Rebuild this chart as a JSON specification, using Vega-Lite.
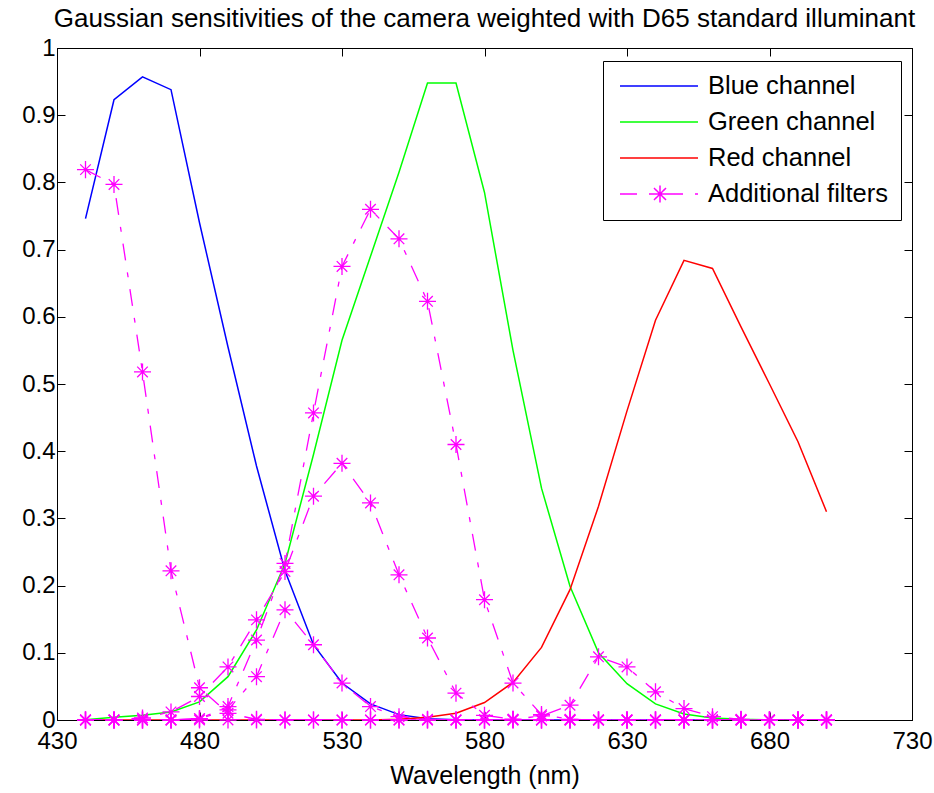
{
  "$schema": "https://vega.github.io/schema/vega-lite/v6.json",
  "width": 855,
  "height": 672,
  "autosize": {"type": "none"},
  "padding": {"left": 57, "top": 48, "right": 22, "bottom": 73},
  "background": "white",
  "title": {
    "text": "Gaussian sensitivities of the camera weighted with D65 standard illuminant",
    "font": "Liberation Sans", "fontSize": 26, "fontWeight": "normal", "color": "black",
    "anchor": "middle", "frame": "group", "baseline": "alphabetic", "offset": -17
  },
  "config": {
    "view": {"stroke": "black", "strokeWidth": 1},
    "axis": {
      "domainColor": "black", "domainWidth": 1, "tickColor": "black", "tickWidth": 1,
      "tickSize": -8, "grid": false, "labelFont": "Liberation Sans", "labelFontSize": 24,
      "labelColor": "black", "titleFont": "Liberation Sans", "titleFontSize": 25,
      "titleFontWeight": "normal", "titleColor": "black", "labelFlush": false,
      "labelOverlap": false, "labelBound": false
    },
    "axisX": {"labelPadding": 17, "titlePadding": 10},
    "axisY": {"labelPadding": 10}
  },
  "resolve": {"axis": {"x": "independent", "y": "independent"}},
  "data": {"values": [
    {"w":440,"v":0.746,"s":"Blue channel","c":"B"},{"w":450,"v":0.923,"s":"Blue channel","c":"B"},{"w":460,"v":0.957,"s":"Blue channel","c":"B"},{"w":470,"v":0.938,"s":"Blue channel","c":"B"},{"w":480,"v":0.74,"s":"Blue channel","c":"B"},{"w":490,"v":0.555,"s":"Blue channel","c":"B"},{"w":500,"v":0.378,"s":"Blue channel","c":"B"},{"w":510,"v":0.222,"s":"Blue channel","c":"B"},{"w":520,"v":0.112,"s":"Blue channel","c":"B"},{"w":530,"v":0.055,"s":"Blue channel","c":"B"},{"w":540,"v":0.024,"s":"Blue channel","c":"B"},{"w":550,"v":0.008,"s":"Blue channel","c":"B"},{"w":560,"v":0.002,"s":"Blue channel","c":"B"},{"w":570,"v":0.0005,"s":"Blue channel","c":"B"},{"w":580,"v":0,"s":"Blue channel","c":"B"},{"w":590,"v":0,"s":"Blue channel","c":"B"},{"w":600,"v":0,"s":"Blue channel","c":"B"},{"w":610,"v":0,"s":"Blue channel","c":"B"},{"w":620,"v":0,"s":"Blue channel","c":"B"},{"w":630,"v":0,"s":"Blue channel","c":"B"},{"w":640,"v":0,"s":"Blue channel","c":"B"},{"w":650,"v":0,"s":"Blue channel","c":"B"},{"w":660,"v":0,"s":"Blue channel","c":"B"},{"w":670,"v":0,"s":"Blue channel","c":"B"},{"w":680,"v":0,"s":"Blue channel","c":"B"},{"w":690,"v":0,"s":"Blue channel","c":"B"},{"w":700,"v":0,"s":"Blue channel","c":"B"},
    {"w":440,"v":0.0005,"s":"Green channel","c":"G"},{"w":450,"v":0.004,"s":"Green channel","c":"G"},{"w":460,"v":0.007,"s":"Green channel","c":"G"},{"w":470,"v":0.012,"s":"Green channel","c":"G"},{"w":480,"v":0.027,"s":"Green channel","c":"G"},{"w":490,"v":0.0645,"s":"Green channel","c":"G"},{"w":500,"v":0.134,"s":"Green channel","c":"G"},{"w":510,"v":0.233,"s":"Green channel","c":"G"},{"w":520,"v":0.395,"s":"Green channel","c":"G"},{"w":530,"v":0.565,"s":"Green channel","c":"G"},{"w":540,"v":0.69,"s":"Green channel","c":"G"},{"w":550,"v":0.815,"s":"Green channel","c":"G"},{"w":560,"v":0.948,"s":"Green channel","c":"G"},{"w":570,"v":0.948,"s":"Green channel","c":"G"},{"w":580,"v":0.785,"s":"Green channel","c":"G"},{"w":590,"v":0.55,"s":"Green channel","c":"G"},{"w":600,"v":0.345,"s":"Green channel","c":"G"},{"w":610,"v":0.199,"s":"Green channel","c":"G"},{"w":620,"v":0.1,"s":"Green channel","c":"G"},{"w":630,"v":0.054,"s":"Green channel","c":"G"},{"w":640,"v":0.024,"s":"Green channel","c":"G"},{"w":650,"v":0.009,"s":"Green channel","c":"G"},{"w":660,"v":0.003,"s":"Green channel","c":"G"},{"w":670,"v":0.001,"s":"Green channel","c":"G"},{"w":680,"v":0,"s":"Green channel","c":"G"},{"w":690,"v":0,"s":"Green channel","c":"G"},{"w":700,"v":0,"s":"Green channel","c":"G"},
    {"w":440,"v":0,"s":"Red channel","c":"R"},{"w":450,"v":0,"s":"Red channel","c":"R"},{"w":460,"v":0,"s":"Red channel","c":"R"},{"w":470,"v":0,"s":"Red channel","c":"R"},{"w":480,"v":0,"s":"Red channel","c":"R"},{"w":490,"v":0,"s":"Red channel","c":"R"},{"w":500,"v":0,"s":"Red channel","c":"R"},{"w":510,"v":0,"s":"Red channel","c":"R"},{"w":520,"v":0,"s":"Red channel","c":"R"},{"w":530,"v":0,"s":"Red channel","c":"R"},{"w":540,"v":0,"s":"Red channel","c":"R"},{"w":550,"v":0.001,"s":"Red channel","c":"R"},{"w":560,"v":0.004,"s":"Red channel","c":"R"},{"w":570,"v":0.01,"s":"Red channel","c":"R"},{"w":580,"v":0.026,"s":"Red channel","c":"R"},{"w":590,"v":0.056,"s":"Red channel","c":"R"},{"w":600,"v":0.108,"s":"Red channel","c":"R"},{"w":610,"v":0.194,"s":"Red channel","c":"R"},{"w":620,"v":0.318,"s":"Red channel","c":"R"},{"w":630,"v":0.46,"s":"Red channel","c":"R"},{"w":640,"v":0.595,"s":"Red channel","c":"R"},{"w":650,"v":0.684,"s":"Red channel","c":"R"},{"w":660,"v":0.672,"s":"Red channel","c":"R"},{"w":670,"v":0.585,"s":"Red channel","c":"R"},{"w":680,"v":0.5,"s":"Red channel","c":"R"},{"w":690,"v":0.414,"s":"Red channel","c":"R"},{"w":700,"v":0.31,"s":"Red channel","c":"R"},
    {"w":440,"v":0.819,"s":"Additional filters","c":"F1"},{"w":450,"v":0.797,"s":"Additional filters","c":"F1"},{"w":460,"v":0.518,"s":"Additional filters","c":"F1"},{"w":470,"v":0.222,"s":"Additional filters","c":"F1"},{"w":480,"v":0.048,"s":"Additional filters","c":"F1"},{"w":490,"v":0.01,"s":"Additional filters","c":"F1"},{"w":500,"v":0.001,"s":"Additional filters","c":"F1"},{"w":510,"v":0,"s":"Additional filters","c":"F1"},{"w":520,"v":0,"s":"Additional filters","c":"F1"},{"w":530,"v":0,"s":"Additional filters","c":"F1"},{"w":540,"v":0,"s":"Additional filters","c":"F1"},{"w":550,"v":0,"s":"Additional filters","c":"F1"},{"w":560,"v":0,"s":"Additional filters","c":"F1"},{"w":570,"v":0,"s":"Additional filters","c":"F1"},{"w":580,"v":0,"s":"Additional filters","c":"F1"},{"w":590,"v":0,"s":"Additional filters","c":"F1"},{"w":600,"v":0,"s":"Additional filters","c":"F1"},{"w":610,"v":0,"s":"Additional filters","c":"F1"},{"w":620,"v":0,"s":"Additional filters","c":"F1"},{"w":630,"v":0,"s":"Additional filters","c":"F1"},{"w":640,"v":0,"s":"Additional filters","c":"F1"},{"w":650,"v":0,"s":"Additional filters","c":"F1"},{"w":660,"v":0,"s":"Additional filters","c":"F1"},{"w":670,"v":0,"s":"Additional filters","c":"F1"},{"w":680,"v":0,"s":"Additional filters","c":"F1"},{"w":690,"v":0,"s":"Additional filters","c":"F1"},{"w":700,"v":0,"s":"Additional filters","c":"F1"},
    {"w":440,"v":0,"s":"Additional filters","c":"F2"},{"w":450,"v":0,"s":"Additional filters","c":"F2"},{"w":460,"v":0,"s":"Additional filters","c":"F2"},{"w":470,"v":0,"s":"Additional filters","c":"F2"},{"w":480,"v":0.002,"s":"Additional filters","c":"F2"},{"w":490,"v":0.02,"s":"Additional filters","c":"F2"},{"w":500,"v":0.119,"s":"Additional filters","c":"F2"},{"w":510,"v":0.233,"s":"Additional filters","c":"F2"},{"w":520,"v":0.457,"s":"Additional filters","c":"F2"},{"w":530,"v":0.675,"s":"Additional filters","c":"F2"},{"w":540,"v":0.76,"s":"Additional filters","c":"F2"},{"w":550,"v":0.716,"s":"Additional filters","c":"F2"},{"w":560,"v":0.623,"s":"Additional filters","c":"F2"},{"w":570,"v":0.41,"s":"Additional filters","c":"F2"},{"w":580,"v":0.179,"s":"Additional filters","c":"F2"},{"w":590,"v":0.055,"s":"Additional filters","c":"F2"},{"w":600,"v":0.008,"s":"Additional filters","c":"F2"},{"w":610,"v":0.001,"s":"Additional filters","c":"F2"},{"w":620,"v":0,"s":"Additional filters","c":"F2"},{"w":630,"v":0,"s":"Additional filters","c":"F2"},{"w":640,"v":0,"s":"Additional filters","c":"F2"},{"w":650,"v":0,"s":"Additional filters","c":"F2"},{"w":660,"v":0,"s":"Additional filters","c":"F2"},{"w":670,"v":0,"s":"Additional filters","c":"F2"},{"w":680,"v":0,"s":"Additional filters","c":"F2"},{"w":690,"v":0,"s":"Additional filters","c":"F2"},{"w":700,"v":0,"s":"Additional filters","c":"F2"},
    {"w":440,"v":0,"s":"Additional filters","c":"F3"},{"w":450,"v":0,"s":"Additional filters","c":"F3"},{"w":460,"v":0.003,"s":"Additional filters","c":"F3"},{"w":470,"v":0.012,"s":"Additional filters","c":"F3"},{"w":480,"v":0.035,"s":"Additional filters","c":"F3"},{"w":490,"v":0.079,"s":"Additional filters","c":"F3"},{"w":500,"v":0.149,"s":"Additional filters","c":"F3"},{"w":510,"v":0.221,"s":"Additional filters","c":"F3"},{"w":520,"v":0.333,"s":"Additional filters","c":"F3"},{"w":530,"v":0.382,"s":"Additional filters","c":"F3"},{"w":540,"v":0.323,"s":"Additional filters","c":"F3"},{"w":550,"v":0.216,"s":"Additional filters","c":"F3"},{"w":560,"v":0.122,"s":"Additional filters","c":"F3"},{"w":570,"v":0.04,"s":"Additional filters","c":"F3"},{"w":580,"v":0.007,"s":"Additional filters","c":"F3"},{"w":590,"v":0.001,"s":"Additional filters","c":"F3"},{"w":600,"v":0,"s":"Additional filters","c":"F3"},{"w":610,"v":0,"s":"Additional filters","c":"F3"},{"w":620,"v":0,"s":"Additional filters","c":"F3"},{"w":630,"v":0,"s":"Additional filters","c":"F3"},{"w":640,"v":0,"s":"Additional filters","c":"F3"},{"w":650,"v":0,"s":"Additional filters","c":"F3"},{"w":660,"v":0,"s":"Additional filters","c":"F3"},{"w":670,"v":0,"s":"Additional filters","c":"F3"},{"w":680,"v":0,"s":"Additional filters","c":"F3"},{"w":690,"v":0,"s":"Additional filters","c":"F3"},{"w":700,"v":0,"s":"Additional filters","c":"F3"},
    {"w":440,"v":0,"s":"Additional filters","c":"F4"},{"w":450,"v":0,"s":"Additional filters","c":"F4"},{"w":460,"v":0,"s":"Additional filters","c":"F4"},{"w":470,"v":0,"s":"Additional filters","c":"F4"},{"w":480,"v":0.002,"s":"Additional filters","c":"F4"},{"w":490,"v":0.015,"s":"Additional filters","c":"F4"},{"w":500,"v":0.0645,"s":"Additional filters","c":"F4"},{"w":510,"v":0.164,"s":"Additional filters","c":"F4"},{"w":520,"v":0.112,"s":"Additional filters","c":"F4"},{"w":530,"v":0.055,"s":"Additional filters","c":"F4"},{"w":540,"v":0.02,"s":"Additional filters","c":"F4"},{"w":550,"v":0.005,"s":"Additional filters","c":"F4"},{"w":560,"v":0.001,"s":"Additional filters","c":"F4"},{"w":570,"v":0,"s":"Additional filters","c":"F4"},{"w":580,"v":0,"s":"Additional filters","c":"F4"},{"w":590,"v":0,"s":"Additional filters","c":"F4"},{"w":600,"v":0,"s":"Additional filters","c":"F4"},{"w":610,"v":0,"s":"Additional filters","c":"F4"},{"w":620,"v":0,"s":"Additional filters","c":"F4"},{"w":630,"v":0,"s":"Additional filters","c":"F4"},{"w":640,"v":0,"s":"Additional filters","c":"F4"},{"w":650,"v":0,"s":"Additional filters","c":"F4"},{"w":660,"v":0,"s":"Additional filters","c":"F4"},{"w":670,"v":0,"s":"Additional filters","c":"F4"},{"w":680,"v":0,"s":"Additional filters","c":"F4"},{"w":690,"v":0,"s":"Additional filters","c":"F4"},{"w":700,"v":0,"s":"Additional filters","c":"F4"},
    {"w":440,"v":0,"s":"Additional filters","c":"F5"},{"w":450,"v":0,"s":"Additional filters","c":"F5"},{"w":460,"v":0,"s":"Additional filters","c":"F5"},{"w":470,"v":0,"s":"Additional filters","c":"F5"},{"w":480,"v":0,"s":"Additional filters","c":"F5"},{"w":490,"v":0,"s":"Additional filters","c":"F5"},{"w":500,"v":0,"s":"Additional filters","c":"F5"},{"w":510,"v":0,"s":"Additional filters","c":"F5"},{"w":520,"v":0,"s":"Additional filters","c":"F5"},{"w":530,"v":0,"s":"Additional filters","c":"F5"},{"w":540,"v":0,"s":"Additional filters","c":"F5"},{"w":550,"v":0,"s":"Additional filters","c":"F5"},{"w":560,"v":0,"s":"Additional filters","c":"F5"},{"w":570,"v":0,"s":"Additional filters","c":"F5"},{"w":580,"v":0,"s":"Additional filters","c":"F5"},{"w":590,"v":0.001,"s":"Additional filters","c":"F5"},{"w":600,"v":0.006,"s":"Additional filters","c":"F5"},{"w":610,"v":0.022,"s":"Additional filters","c":"F5"},{"w":620,"v":0.094,"s":"Additional filters","c":"F5"},{"w":630,"v":0.079,"s":"Additional filters","c":"F5"},{"w":640,"v":0.042,"s":"Additional filters","c":"F5"},{"w":650,"v":0.017,"s":"Additional filters","c":"F5"},{"w":660,"v":0.005,"s":"Additional filters","c":"F5"},{"w":670,"v":0.001,"s":"Additional filters","c":"F5"},{"w":680,"v":0,"s":"Additional filters","c":"F5"},{"w":690,"v":0,"s":"Additional filters","c":"F5"},{"w":700,"v":0,"s":"Additional filters","c":"F5"}
  ]},
  "layer": [
    {
      "transform": [{"filter": "datum.s !== 'Additional filters'"}],
      "mark": {"type": "line", "strokeWidth": 1.5, "clip": true},
      "encoding": {
        "x": {"field": "w", "type": "quantitative",
              "scale": {"domain": [430, 730], "nice": false, "zero": false},
              "axis": {"orient": "bottom", "values": [430, 480, 530, 580, 630, 680, 730], "title": "Wavelength (nm)"}},
        "y": {"field": "v", "type": "quantitative",
              "scale": {"domain": [0, 1], "nice": false, "zero": false},
              "axis": {"orient": "left", "values": [0, 0.1, 0.2, 0.3, 0.4, 0.5, 0.6, 0.7, 0.8, 0.9, 1], "format": "~g", "title": null}},
        "color": {"field": "s", "type": "nominal",
                  "scale": {"domain": ["Blue channel", "Green channel", "Red channel", "Additional filters"],
                            "range": ["#0000FF", "#00FF00", "#FF0000", "#FF00FF"]},
                  "legend": {
                    "title": null, "orient": "none", "legendX": 546, "legendY": 13, "direction": "vertical",
                    "strokeColor": "black", "fillColor": "white", "padding": 12, "cornerRadius": 0,
                    "labelFont": "Liberation Sans", "labelFontSize": 25.5, "labelColor": "black",
                    "labelOffset": 67, "rowPadding": 9, "labelLimit": 400,
                    "symbolType": "stroke", "symbolSize": 576, "symbolStrokeWidth": 1.5,
                    "encode": {"symbols": {"update": {
                      "shape": {"signal": "datum.value === 'Additional filters' ? 'M-0.667,0H0.75M1.75,0H2.167M3.167,0H4.583M5.583,0H5.833M1.958,0H3.375M2.667,-0.708V0.708M2.167,-0.5L3.167,0.5M2.167,0.5L3.167,-0.5' : 'M-0.667,0H5.833'"},
                      "strokeDash": {"value": [1, 0]}
                    }}}
                  }},
        "detail": {"field": "c"}
      }
    },
    {
      "transform": [{"filter": "datum.s === 'Additional filters'"}],
      "mark": {"type": "line", "strokeWidth": 1.3, "strokeDash": [17, 12, 5, 12], "clip": true},
      "encoding": {
        "x": {"field": "w", "type": "quantitative", "axis": null},
        "y": {"field": "v", "type": "quantitative", "axis": null},
        "color": {"field": "s", "type": "nominal"},
        "detail": {"field": "c"}
      }
    },
    {
      "transform": [{"filter": "datum.s === 'Additional filters'"}],
      "mark": {"type": "point", "shape": "M-1,0H1M0,-1V1M-0.62,-0.62L0.62,0.62M-0.62,0.62L0.62,-0.62",
               "size": 290, "filled": false, "stroke": "#FF00FF", "strokeWidth": 1.3, "opacity": 1},
      "encoding": {
        "x": {"field": "w", "type": "quantitative",
              "axis": {"orient": "top", "values": [430, 480, 530, 580, 630, 680, 730], "labels": false, "title": null}},
        "y": {"field": "v", "type": "quantitative",
              "axis": {"orient": "right", "values": [0, 0.1, 0.2, 0.3, 0.4, 0.5, 0.6, 0.7, 0.8, 0.9, 1], "labels": false, "title": null}}
      }
    }
  ]
}
